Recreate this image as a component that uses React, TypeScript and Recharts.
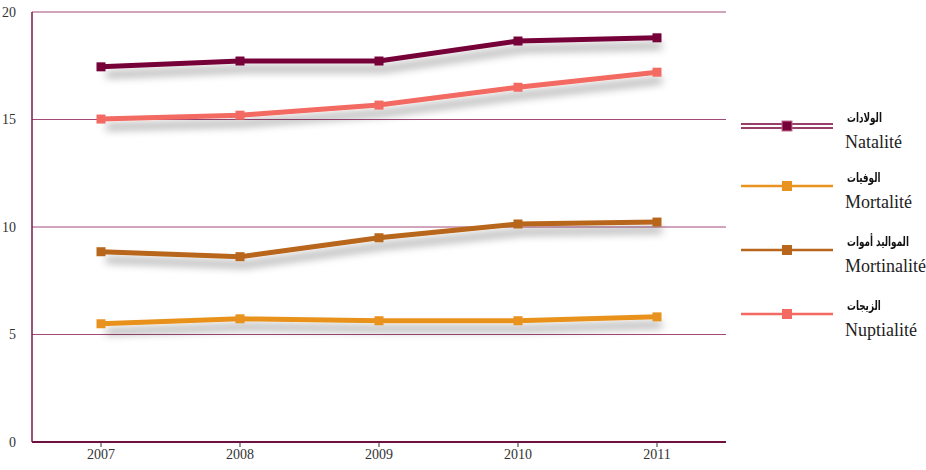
import { LineChart, Line, XAxis, YAxis, CartesianGrid } from "recharts";

const years = ["2007", "2008", "2009", "2010", "2011"];
const natalite = [17.45, 17.72, 17.72, 18.65, 18.8];
const nuptialite = [15.02, 15.2, 15.67, 16.5, 17.2];
const mortinalite = [8.85, 8.62, 9.5, 10.14, 10.23];
const mortalite = [5.5, 5.73, 5.64, 5.64, 5.82];
const yTicks = [0, 5, 10, 15, 20];

const series = [
  { key: "natalite", ar: "الولادات", fr: "Natalité", color: "#760038", values: natalite, double: true },
  { key: "mortalite", ar: "الوفيات", fr: "Mortalité", color: "#e8921f", values: mortalite },
  { key: "mortinalite", ar: "المواليد أموات", fr: "Mortinalité", color: "#b8661b", values: mortinalite },
  { key: "nuptialite", ar: "الزيجات", fr: "Nuptialité", color: "#f26a62", values: nuptialite },
];

const data = years.map((y, i) => {
  const row: any = { year: y };
  series.forEach((s) => (row[s.key] = s.values[i]));
  return row;
});

const serif = "'Liberation Serif', 'Times New Roman', serif";

const SquareDot = (props: any) => {
  const { cx, cy, stroke } = props;
  if (cx == null || cy == null) return null;
  return <rect x={cx - 4.5} y={cy - 4.5} width={9} height={9} fill={stroke} />;
};

const legendTops = [126, 186, 250, 314];

const ChartLegend = () => (
  <div style={{ position: "absolute", left: 735, top: 0, width: 191, height: 470 }}>
    {series.map((s, i) => (
      <div key={s.key}>
        <svg style={{ position: "absolute", left: 0, top: legendTops[i] - 8 }} width={100} height={16}>
          {s.double ? (
            <>
              <line x1={6} x2={98} y1={6} y2={6} stroke={s.color} strokeWidth={1.5} />
              <line x1={6} x2={98} y1={10} y2={10} stroke={s.color} strokeWidth={1.5} />
              <rect x={47} y={3} width={10} height={10} fill={s.color} stroke="#c07090" strokeWidth={1} />
            </>
          ) : (
            <>
              <line x1={6} x2={98} y1={8} y2={8} stroke={s.color} strokeWidth={2.5} />
              <rect x={47} y={3} width={10} height={10} fill={s.color} />
            </>
          )}
        </svg>
        <div
          style={{
            position: "absolute",
            left: 112,
            top: legendTops[i] - 16,
            fontFamily: "'DejaVu Sans', sans-serif",
            fontWeight: "bold",
            fontSize: 13,
            color: "#111",
            whiteSpace: "nowrap",
            transform: "scaleX(0.68)",
            transformOrigin: "left center",
          }}
        >
          <span dir="rtl">{s.ar}</span>
        </div>
        <div
          style={{
            position: "absolute",
            left: 110,
            top: legendTops[i] + 6,
            fontFamily: serif,
            fontSize: 18,
            color: "#222",
            whiteSpace: "nowrap",
          }}
        >
          {s.fr}
        </div>
      </div>
    ))}
  </div>
);

export default function App() {
  return (
    <div style={{ position: "absolute", left: 0, top: 0, width: 926, height: 470, background: "#fff" }}>
      <svg width={0} height={0} style={{ position: "absolute" }}>
        <defs>
          <filter id="lineShadow" filterUnits="userSpaceOnUse" x="0" y="0" width="926" height="470">
            <feDropShadow dx="5" dy="8" stdDeviation="4" floodColor="#000" floodOpacity="0.4" />
          </filter>
        </defs>
      </svg>
      <LineChart width={926} height={470} data={data} margin={{ top: 12, right: 200, bottom: 0, left: 0 }}>
        <CartesianGrid vertical={false} stroke="#a24a78" strokeWidth={1} horizontalValues={[5, 10, 15, 20]} />
        <XAxis
          dataKey="year"
          padding={{ left: 69, right: 69 }}
          height={28}
          axisLine={{ stroke: "#6e1040", strokeWidth: 2 }}
          tickLine={{ stroke: "#333" }}
          tickSize={5}
          tick={{ fontFamily: serif, fontSize: 14, fill: "#333" }}
        />
        <YAxis
          domain={[0, 20]}
          ticks={yTicks}
          width={32}
          axisLine={{ stroke: "#7a1848", strokeWidth: 1.5 }}
          tickLine={false}
          tickMargin={10}
          tick={{ fontFamily: serif, fontSize: 14, fill: "#333" }}
        />
        {series.map((s) => (
          <Line
            key={s.key}
            dataKey={s.key}
            type="linear"
            stroke={s.color}
            strokeWidth={5}
            strokeLinejoin="miter"
            dot={<SquareDot />}
            activeDot={false}
            isAnimationActive={false}
            filter="url(#lineShadow)"
          />
        ))}
      </LineChart>
      <ChartLegend />
    </div>
  );
}
